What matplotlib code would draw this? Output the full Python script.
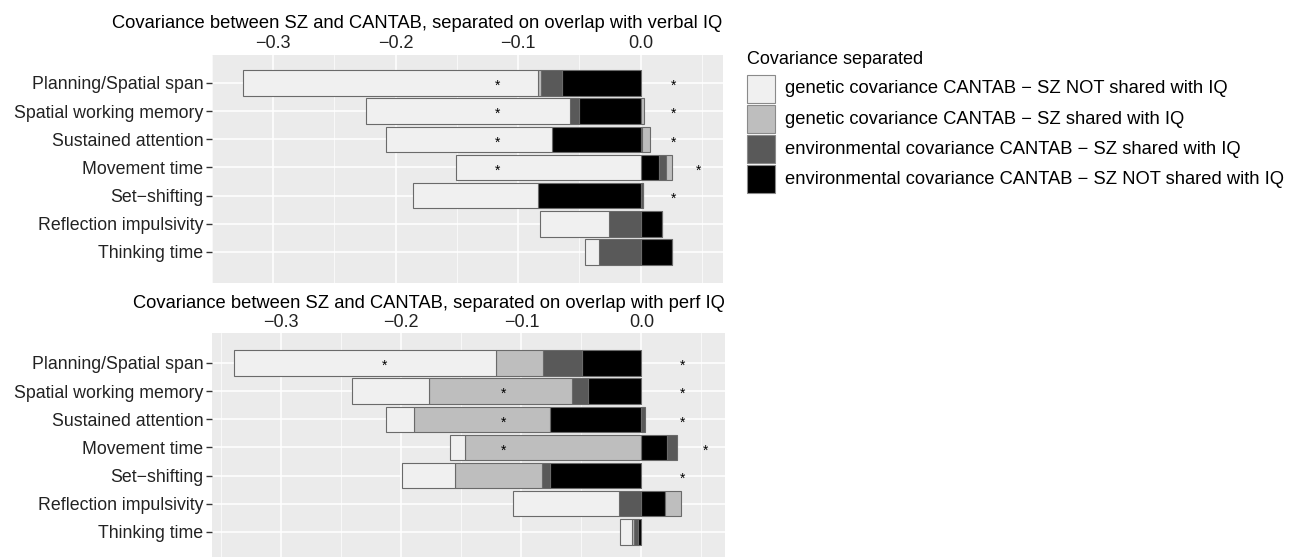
import matplotlib
matplotlib.use("Agg")
import matplotlib.pyplot as plt
from matplotlib.patches import Rectangle
from matplotlib.transforms import offset_copy

plt.rcParams['font.family'] = ['Liberation Sans', 'DejaVu Sans']
plt.rcParams['axes.unicode_minus'] = True

tasks = ["Planning/Spatial span", "Spatial working memory", "Sustained attention",
         "Movement time", "Set\u2212shifting", "Reflection impulsivity", "Thinking time"]

parts = ["gen_not", "gen_sh", "env_sh", "env_not"]
LABELS = {"gen_not": "genetic covariance CANTAB \u2212 SZ NOT shared with IQ",
          "gen_sh": "genetic covariance CANTAB \u2212 SZ shared with IQ",
          "env_sh": "environmental covariance CANTAB \u2212 SZ shared with IQ",
          "env_not": "environmental covariance CANTAB \u2212 SZ NOT shared with IQ"}
COLORS = {"gen_not": "#F0F0F0", "gen_sh": "#BEBEBE", "env_sh": "#595959", "env_not": "#000000"}

# verbal IQ panel
env_not_v = [-0.064, -0.050, -0.072, 0.0149, -0.084, 0.0178, 0.0254]
env_sh_v = [-0.0176, -0.008, 0.0015, 0.0059, 0.002, -0.0256, -0.0338]
gen_sh_v = [-0.002, 0.003, 0.0065, 0.0045, 0.0, 0.0, 0.0]
gen_not_v = [-0.2405, -0.1664, -0.136, -0.1505, -0.1018, -0.0566, -0.0113]

# perf IQ panel
env_not_p = [-0.0494, -0.0444, -0.0758, 0.0214, -0.0763, 0.0198, -0.0025]
env_sh_p = [-0.0325, -0.0134, 0.003, 0.0083, -0.0068, -0.0188, -0.0035]
gen_sh_p = [-0.0394, -0.119, -0.1133, -0.147, -0.0719, 0.0128, -0.002]
gen_not_p = [-0.2181, -0.0643, -0.0233, -0.0126, -0.0444, -0.088, -0.0098]

# significance stars (row index, x)
stars_v_rows = [0, 1, 2, 3, 0, 1, 2, 4, 3]
stars_v_x = [-0.117, -0.117, -0.117, -0.117, 0.027, 0.027, 0.027, 0.027, 0.0475]
stars_p_rows = [0, 1, 2, 3, 0, 1, 2, 4, 3]
stars_p_x = [-0.214, -0.1148, -0.1148, -0.1148, 0.0344, 0.0344, 0.0344, 0.0344, 0.0536]

W, H = 1289, 557
fig = plt.figure(figsize=(W / 100, H / 100), dpi=100)


def panel(rect, series, xlim, ylim, star_rows, star_x, title, title_y):
    ax = fig.add_axes(rect)
    ax.set_facecolor("#EBEBEB")
    # stack outward from zero: env_not, env_sh, gen_sh, gen_not
    order = ["env_not", "env_sh", "gen_sh", "gen_not"]
    pos = [0.0] * len(tasks)
    neg = [0.0] * len(tasks)
    ys = list(range(len(tasks)))
    for key in order:
        vals = series[key]
        lefts = []
        for i, v in enumerate(vals):
            if v >= 0:
                lefts.append(pos[i])
                pos[i] += v
            else:
                lefts.append(neg[i] + v)
                neg[i] += v
        widths = [abs(v) for v in vals]
        ax.barh(ys, widths, left=lefts, height=0.9, color=COLORS[key],
                edgecolor="#6A6A6A", linewidth=0.8, zorder=3)
    star_tr = offset_copy(ax.transData, fig=fig, x=0, y=-3, units="dots")
    for r, x in zip(star_rows, star_x):
        ax.text(x, r, "*", ha="center", va="center", fontsize=10, transform=star_tr, zorder=4)
    ax.set_xlim(*xlim)
    ax.set_ylim(*ylim)
    ax.set_yticks(ys)
    ax.set_yticklabels(tasks)
    ax.set_xticks([-0.3, -0.2, -0.1, 0.0])
    ax.set_xticklabels(["\u22120.3", "\u22120.2", "\u22120.1", "0.0"])
    ax.set_xticks([-0.35, -0.25, -0.15, -0.05, 0.05], minor=True)
    ax.xaxis.tick_top()
    ax.tick_params(axis="x", which="both", length=0, labelsize=13, labelcolor="#222222", pad=2)
    ax.tick_params(axis="y", length=4, width=1, color="#333333", labelsize=12.8,
                   labelcolor="#222222", pad=2)
    ax.grid(True, which="major", color="white", linewidth=1.1, zorder=0)
    ax.grid(True, which="minor", axis="x", color="white", linewidth=0.5, zorder=0)
    ax.set_axisbelow(True)
    for s in ax.spines.values():
        s.set_visible(False)
    fig.text((rect[0] + rect[2]), 1 - title_y / H, title, ha="right", va="center", fontsize=13.2)
    return ax


verbal = {"env_not": env_not_v, "env_sh": env_sh_v, "gen_sh": gen_sh_v, "gen_not": gen_not_v}
perf = {"env_not": env_not_p, "env_sh": env_sh_p, "gen_sh": gen_sh_p, "gen_not": gen_not_p}

panel([211.7 / W, 1 - 282.7 / H, 511 / W, 227.7 / H], verbal, (-0.3418, 0.067), (7.09, -0.994),
      stars_v_rows, stars_v_x,
      "Covariance between SZ and CANTAB, separated on overlap with verbal IQ", 23)
panel([211.7 / W, 0.0, 513.3 / W, 223.7 / H], perf, (-0.358, 0.0696), (6.89, -1.054),
      stars_p_rows, stars_p_x,
      "Covariance between SZ and CANTAB, separated on overlap with perf IQ", 304)

# legend, drawn by hand to match key size and spacing
fig.text(747 / W, 1 - 60 / H, "Covariance separated", ha="left", va="center", fontsize=13)
for i, k in enumerate(parts):
    top = 75 + 30 * i
    fig.patches.append(Rectangle((747 / W, 1 - (top + 27.6) / H), 27.6 / W, 27.6 / H,
                                 transform=fig.transFigure, facecolor=COLORS[k],
                                 edgecolor="#8A8A8A", linewidth=0.8))
    fig.text(785 / W, 1 - (top + 14) / H, LABELS[k], ha="left", va="center", fontsize=13.2)

fig.savefig("out.png", dpi=100)
